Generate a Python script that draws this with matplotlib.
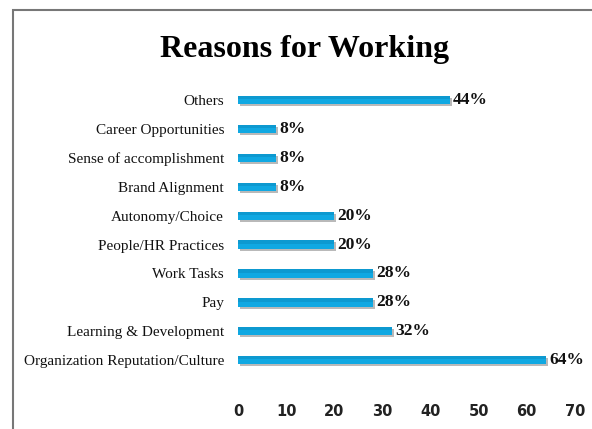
import matplotlib
matplotlib.use("Agg")
import matplotlib.pyplot as plt
from matplotlib.patches import Rectangle

# ── Data ──────────────────────────────────────────────────────────────────────
reasons = [
    "Organization Reputation/Culture",
    "Learning & Development",
    "Pay",
    "Work Tasks",
    "People/HR Practices",
    "Autonomy/Choice",
    "Brand Alignment",
    "Sense of accomplishment",
    "Career Opportunities",
    "Others",
]
percent = [64, 32, 28, 28, 20, 20, 8, 8, 8, 44]
x_ticks = [0, 10, 20, 30, 40, 50, 60, 70]

BAR_COLOR = "#10a8e2"
BAR_DARK = "#0a7fb0"
SHADOW = "#b9b9b9"

SERIF = ["Liberation Serif", "DejaVu Serif"]

fig = plt.figure(figsize=(5.92, 4.29), dpi=100)
ax = fig.add_axes([0.402, 0.127, 0.569, 0.673])

y = list(range(len(reasons)))
h = 0.29

# soft drop shadow, main bar, darker top edge
ax.barh([v - 0.07 for v in y], percent, height=h, left=0.4, color=SHADOW, zorder=1)
ax.barh(y, percent, height=h, color=BAR_COLOR, zorder=2)
ax.barh([v + h * 0.3 for v in y], percent, height=h * 0.4, color=BAR_DARK,
        alpha=0.35, zorder=3)

for yi, p in zip(y, percent):
    ax.text(p + 0.7, yi, f"{p}%", va="center", ha="left", fontsize=12.5,
            fontweight="bold", family=SERIF, color="#111111")

ax.set_xlim(0, 70)
ax.set_ylim(-0.5, len(reasons) - 0.5)
ax.set_xticks(x_ticks)
ax.set_xticklabels([str(t) for t in x_ticks], fontsize=10.5, fontweight="bold",
                   family="DejaVu Sans", color="#222222")
ax.set_yticks(y)
ax.set_yticklabels(reasons, fontsize=11, family=SERIF, color="#111111")
ax.tick_params(axis="x", length=0, pad=21)
ax.tick_params(axis="y", length=0, pad=10)
for s in ax.spines.values():
    s.set_visible(False)

fig.text(0.514, 0.885, "Reasons for Working", ha="center", va="center",
         fontsize=23, fontweight="bold", family=SERIF, color="black")

# chart frame (runs off the right and bottom edges)
fig.patches.append(Rectangle((13 / 592, -0.05), 1.2, 1 - 10 / 429 + 0.05,
                             transform=fig.transFigure, fill=False,
                             edgecolor="#777777", linewidth=1.5))

fig.savefig("out.png", dpi=100)
